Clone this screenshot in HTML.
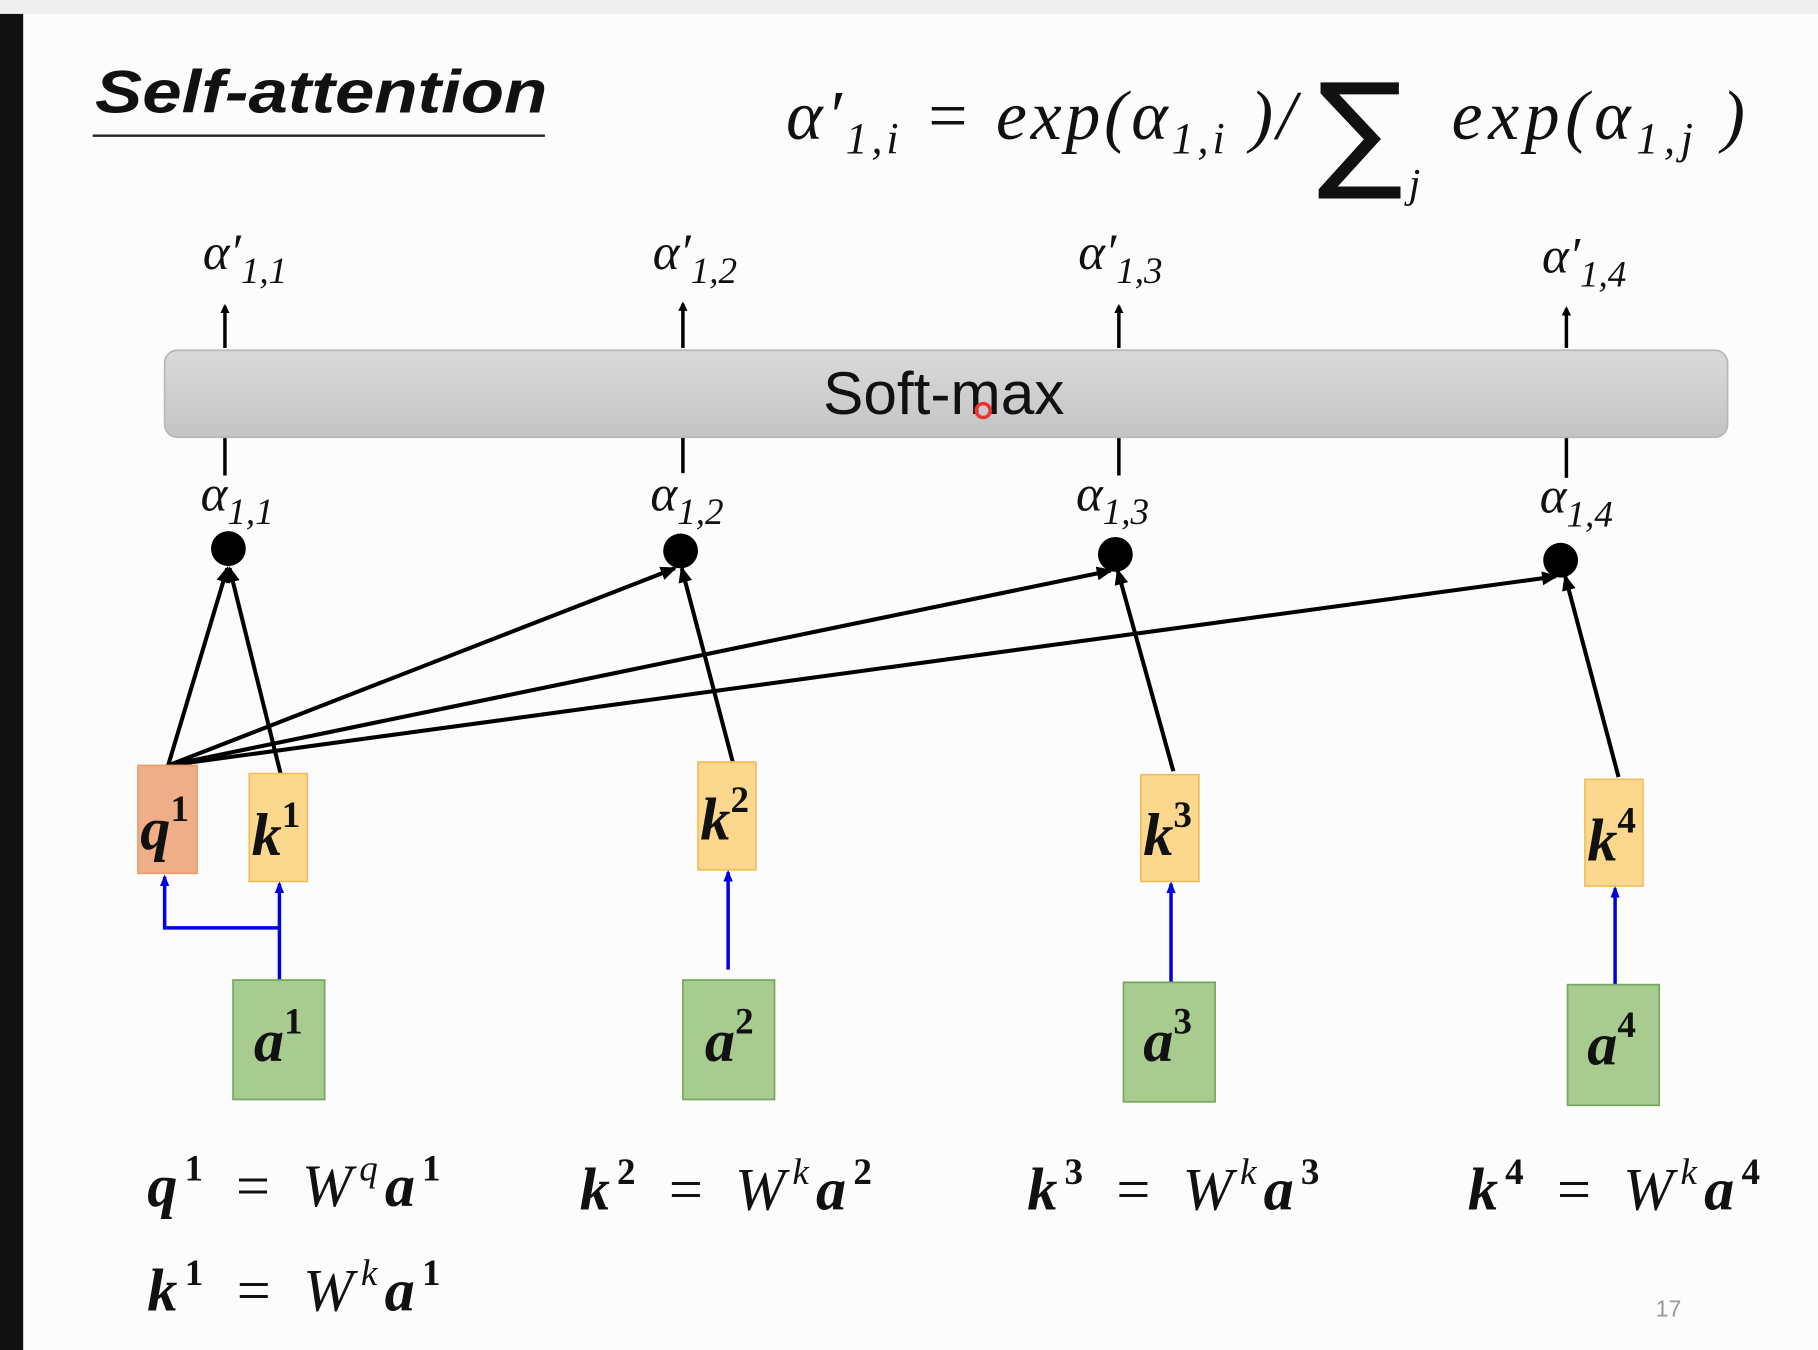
<!DOCTYPE html>
<html><head><meta charset="utf-8"><style>
html,body{margin:0;padding:0;width:1818px;height:1350px;overflow:hidden;background:#fcfcfc}
svg{display:block}
.m{font-family:"Liberation Serif",serif;font-style:italic}
</style></head><body>
<svg width="1818" height="1350" viewBox="0 0 1568 1164" preserveAspectRatio="none" xmlns="http://www.w3.org/2000/svg">
<defs>
<marker id="ah" markerWidth="8" markerHeight="8" refX="6" refY="4" orient="auto" markerUnits="userSpaceOnUse"><path d="M0,0 L8,4 L0,8 z" fill="#000"/></marker>
<marker id="ahb" markerWidth="10" markerHeight="10" refX="8" refY="5" orient="auto" markerUnits="userSpaceOnUse"><path d="M0,1 L10,5 L0,9 z" fill="#0000e0"/></marker>
<marker id="ahk" markerWidth="14" markerHeight="14" refX="12" refY="7" orient="auto" markerUnits="userSpaceOnUse"><path d="M0,1 L14,7 L0,13 z" fill="#000"/></marker>
<linearGradient id="sg" x1="0" y1="0" x2="0" y2="1"><stop offset="0" stop-color="#dadada"/><stop offset="1" stop-color="#c4c4c4"/></linearGradient>
</defs>
<rect x="0" y="0" width="1568" height="12" fill="#efefef"/>
<rect x="0" y="12" width="20" height="1152" fill="#111"/>
<!-- title -->
<text x="82" y="97" font-family="Liberation Sans,sans-serif" font-weight="bold" font-style="italic" font-size="52" fill="#111" textLength="390" lengthAdjust="spacingAndGlyphs">Self-attention</text>
<line x1="80" y1="117" x2="470" y2="117" stroke="#222" stroke-width="2"/>
<!-- formula -->
<text x="678" y="120" class="m" font-size="60" fill="#111" textLength="440" lengthAdjust="spacing">α′<tspan font-size="38" dy="12">1,i</tspan><tspan dy="-12"> = exp(α</tspan><tspan font-size="38" dy="12">1,i</tspan><tspan dy="-12"> )/</tspan></text>
<text x="1136" y="150" font-family="DejaVu Sans,sans-serif" font-size="110" fill="#111">∑</text>
<text x="1215" y="170" class="m" font-size="36" fill="#111">j</text>
<text x="1252" y="120" class="m" font-size="60" fill="#111" textLength="253" lengthAdjust="spacing">exp(α<tspan font-size="38" dy="12">1,j</tspan><tspan dy="-12"> )</tspan></text>
<!-- alpha prime labels -->
<g class="m" font-size="44" fill="#111">
<text x="175" y="232">α′<tspan font-size="32" dy="12">1,1</tspan></text>
<text x="563" y="232">α′<tspan font-size="32" dy="12">1,2</tspan></text>
<text x="930" y="232">α′<tspan font-size="32" dy="12">1,3</tspan></text>
<text x="1330" y="235">α′<tspan font-size="32" dy="12">1,4</tspan></text>
<text x="173" y="440">α<tspan font-size="32" dy="12">1,1</tspan></text>
<text x="561" y="440">α<tspan font-size="32" dy="12">1,2</tspan></text>
<text x="928" y="440">α<tspan font-size="32" dy="12">1,3</tspan></text>
<text x="1328" y="442">α<tspan font-size="32" dy="12">1,4</tspan></text>
</g>
<g stroke="#000" stroke-width="3">
<line x1="194" y1="300" x2="194" y2="264" marker-end="url(#ah)"/>
<line x1="589" y1="300" x2="589" y2="262" marker-end="url(#ah)"/>
<line x1="965" y1="300" x2="965" y2="264" marker-end="url(#ah)"/>
<line x1="1351" y1="300" x2="1351" y2="266" marker-end="url(#ah)"/>
<line x1="194" y1="377" x2="194" y2="410"/>
<line x1="589" y1="377" x2="589" y2="408"/>
<line x1="965" y1="377" x2="965" y2="410"/>
<line x1="1351" y1="377" x2="1351" y2="412"/>
</g>
<rect x="142" y="302" width="1348" height="75" rx="11" fill="url(#sg)" stroke="#b8b8b8" stroke-width="1.5"/>
<text x="814" y="357" text-anchor="middle" font-family="Liberation Sans,sans-serif" font-size="52" fill="#111">Soft-max</text>
<circle cx="848" cy="354" r="6" fill="none" stroke="#e33" stroke-width="3"/>
<!-- dots -->
<g fill="#000">
<circle cx="197" cy="473" r="15"/><circle cx="587" cy="475" r="15"/><circle cx="962" cy="478" r="15"/><circle cx="1346" cy="483" r="15"/>
</g>
<!-- black connectors -->
<g stroke="#000" stroke-width="3.5" fill="none">
<line x1="145" y1="660" x2="196" y2="490" marker-end="url(#ahk)"/>
<line x1="242" y1="667" x2="198" y2="490" marker-end="url(#ahk)"/>
<line x1="145" y1="660" x2="582" y2="490" marker-end="url(#ahk)"/>
<line x1="145" y1="660" x2="958" y2="492" marker-end="url(#ahk)"/>
<line x1="145" y1="660" x2="1342" y2="497" marker-end="url(#ahk)"/>
<line x1="632" y1="657" x2="588" y2="490" marker-end="url(#ahk)"/>
<line x1="1012" y1="665" x2="964" y2="492" marker-end="url(#ahk)"/>
<line x1="1396" y1="670" x2="1350" y2="497" marker-end="url(#ahk)"/>
</g>
<!-- q/k boxes -->
<rect x="119" y="660" width="51" height="93" fill="#f0ae88" stroke="#e8a070" stroke-width="1.5"/>
<rect x="215" y="667" width="50" height="93" fill="#fcd88e" stroke="#f0c060" stroke-width="1.5"/>
<rect x="602" y="657" width="50" height="93" fill="#fcd88e" stroke="#f0c060" stroke-width="1.5"/>
<rect x="984" y="668" width="50" height="92" fill="#fcd88e" stroke="#f0c060" stroke-width="1.5"/>
<rect x="1367" y="672" width="50" height="92" fill="#fcd88e" stroke="#f0c060" stroke-width="1.5"/>
<g class="m" font-weight="bold" font-size="52" fill="#111">
<text x="121" y="732">q<tspan font-size="32" font-style="normal" dy="-24">1</tspan></text>
<text x="217" y="737">k<tspan font-size="32" font-style="normal" dy="-24">1</tspan></text>
<text x="604" y="724">k<tspan font-size="32" font-style="normal" dy="-24">2</tspan></text>
<text x="986" y="737">k<tspan font-size="32" font-style="normal" dy="-24">3</tspan></text>
<text x="1369" y="742">k<tspan font-size="32" font-style="normal" dy="-24">4</tspan></text>
</g>
<!-- blue -->
<g stroke="#0000e0" stroke-width="3" fill="none">
<line x1="241" y1="845" x2="241" y2="762" marker-end="url(#ahb)"/>
<polyline points="241,800 142,800 142,756" marker-end="url(#ahb)"/>
<line x1="628" y1="836" x2="628" y2="752" marker-end="url(#ahb)"/>
<line x1="1010" y1="848" x2="1010" y2="762" marker-end="url(#ahb)"/>
<line x1="1393" y1="850" x2="1393" y2="766" marker-end="url(#ahb)"/>
</g>
<!-- a boxes -->
<g fill="#a8cc90" stroke="#78a860" stroke-width="1.5">
<rect x="201" y="845" width="79" height="103"/>
<rect x="589" y="845" width="79" height="103"/>
<rect x="969" y="847" width="79" height="103"/>
<rect x="1352" y="849" width="79" height="104"/>
</g>
<g class="m" font-weight="bold" font-size="52" fill="#111">
<text x="219" y="915">a<tspan font-size="32" font-style="normal" dy="-24">1</tspan></text>
<text x="608" y="915">a<tspan font-size="32" font-style="normal" dy="-24">2</tspan></text>
<text x="986" y="915">a<tspan font-size="32" font-style="normal" dy="-24">3</tspan></text>
<text x="1369" y="918">a<tspan font-size="32" font-style="normal" dy="-24">4</tspan></text>
</g>
<!-- equations -->
<g class="m" font-size="52" fill="#111">
<text x="127" y="1040" textLength="253" lengthAdjust="spacing"><tspan font-weight="bold">q</tspan><tspan font-weight="bold" font-style="normal" font-size="32" dy="-22">1</tspan><tspan dy="22"> = W</tspan><tspan font-size="32" dy="-22">q</tspan><tspan font-weight="bold" dy="22">a</tspan><tspan font-weight="bold" font-style="normal" font-size="32" dy="-22">1</tspan></text>
<text x="500" y="1043" textLength="252" lengthAdjust="spacing"><tspan font-weight="bold">k</tspan><tspan font-weight="bold" font-style="normal" font-size="32" dy="-22">2</tspan><tspan dy="22"> = W</tspan><tspan font-size="32" dy="-22">k</tspan><tspan font-weight="bold" dy="22">a</tspan><tspan font-weight="bold" font-style="normal" font-size="32" dy="-22">2</tspan></text>
<text x="886" y="1043" textLength="252" lengthAdjust="spacing"><tspan font-weight="bold">k</tspan><tspan font-weight="bold" font-style="normal" font-size="32" dy="-22">3</tspan><tspan dy="22"> = W</tspan><tspan font-size="32" dy="-22">k</tspan><tspan font-weight="bold" dy="22">a</tspan><tspan font-weight="bold" font-style="normal" font-size="32" dy="-22">3</tspan></text>
<text x="1266" y="1043" textLength="252" lengthAdjust="spacing"><tspan font-weight="bold">k</tspan><tspan font-weight="bold" font-style="normal" font-size="32" dy="-22">4</tspan><tspan dy="22"> = W</tspan><tspan font-size="32" dy="-22">k</tspan><tspan font-weight="bold" dy="22">a</tspan><tspan font-weight="bold" font-style="normal" font-size="32" dy="-22">4</tspan></text>
<text x="127" y="1130" textLength="253" lengthAdjust="spacing"><tspan font-weight="bold">k</tspan><tspan font-weight="bold" font-style="normal" font-size="32" dy="-22">1</tspan><tspan dy="22"> = W</tspan><tspan font-size="32" dy="-22">k</tspan><tspan font-weight="bold" dy="22">a</tspan><tspan font-weight="bold" font-style="normal" font-size="32" dy="-22">1</tspan></text>
</g>
<text x="1428" y="1135" font-family="Liberation Sans,sans-serif" font-size="20" fill="#999">17</text>
</svg>
</body></html>
